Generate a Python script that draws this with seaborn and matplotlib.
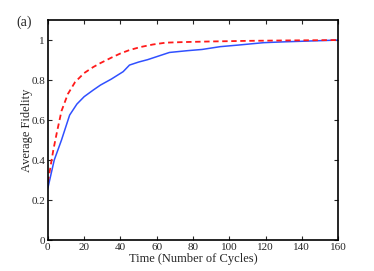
import pandas as pd
import seaborn as sns
from matplotlib import pyplot as plt

# cycles / fidelity
cycles_solid = [0, 3.5, 7.5, 12, 16, 20, 25, 29, 35, 41.5, 45, 50, 55, 60, 67, 77,
                85, 95, 105, 119, 130, 140, 150, 160]
fid_solid = [0.26, 0.40, 0.50, 0.625, 0.68, 0.717, 0.75, 0.775, 0.805, 0.842,
             0.875, 0.89, 0.902, 0.917, 0.938, 0.947, 0.953, 0.967, 0.975,
             0.987, 0.991, 0.994, 0.997, 1.0]
cycles_dashed = [0, 3, 5, 7.5, 11, 15, 20, 25, 29, 35, 40, 45, 51, 58, 65, 75,
                 90, 110, 130, 160]
fid_dashed = [0.29, 0.45, 0.54, 0.645, 0.73, 0.79, 0.835, 0.865, 0.885, 0.912,
              0.933, 0.95, 0.965, 0.978, 0.987, 0.99, 0.993, 0.996, 0.998, 1.0]

sns.set_style("ticks")
plt.rcParams['font.family'] = ['Liberation Serif', 'DejaVu Serif']
plt.rcParams['xtick.direction'] = 'in'
plt.rcParams['ytick.direction'] = 'in'

fig = plt.figure(figsize=(3.74, 2.71), dpi=100)
ax = fig.add_axes([0.128, 0.114, 0.776, 0.812])

solid = pd.DataFrame({"t": cycles_solid, "f": fid_solid})
dashed = pd.DataFrame({"t": cycles_dashed, "f": fid_dashed})
sns.lineplot(data=solid, x="t", y="f", ax=ax, color="#3050ff", lw=1.1)
sns.lineplot(data=dashed, x="t", y="f", ax=ax, color="#ff1a1a", lw=1.3,
             linestyle=(0, (3, 2)))

ax.set_xlim(0, 160)
ax.set_ylim(0, 1.1)
ax.set_xticks(range(0, 161, 20))
ax.set_yticks([0, 0.2, 0.4, 0.6, 0.8, 1])
ax.set_yticklabels(["0", "0.2", "0.4", "0.6", "0.8", "1"])
ax.tick_params(top=True, right=True, labelsize=8, length=3, width=0.8, pad=2)
for s in ax.spines.values():
    s.set_linewidth(1.2)
    s.set_color("black")
ax.set_xlabel("Time (Number of Cycles)", fontsize=9, labelpad=1)
ax.set_ylabel("Average Fidelity", fontsize=9, labelpad=-1)
fig.text(0.045, 0.905, "(a)", fontsize=10)

fig.savefig("out.png", dpi=100)
